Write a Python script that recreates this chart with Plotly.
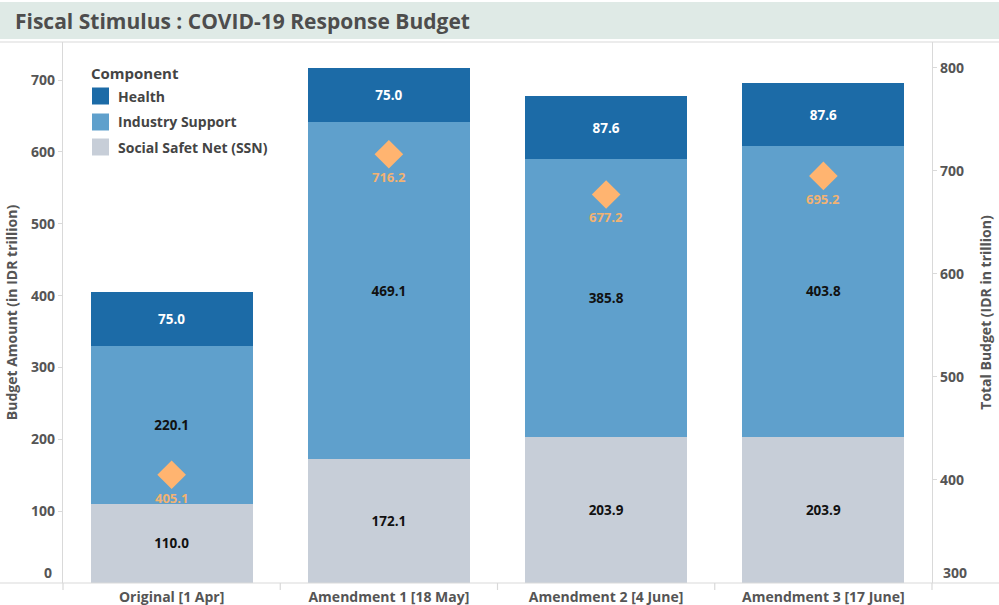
import plotly.graph_objects as go

# Fiscal stimulus components per budget revision (IDR trillion)
stages = ["Original [1 Apr]", "Amendment 1 [18 May]", "Amendment 2 [4 June]", "Amendment 3 [17 June]"]
ssn = [110.0, 172.1, 203.9, 203.9]
industry = [220.1, 469.1, 385.8, 403.8]
health = [75.0, 75.0, 87.6, 87.6]
total = [405.1, 716.2, 677.2, 695.2]

left_ticks = [100, 200, 300, 400, 500, 600, 700]
right_ticks = [400, 500, 600, 700, 800]

FONT = "Open Sans"
C_HEALTH = "#1c6ba7"
C_INDUSTRY = "#5fa0cc"
C_SSN = "#c7ced8"
C_TOTAL = "#ffb470"
C_TOTAL_TXT = "#f2b272"
AXIS_GRAY = "#d9d9d9"
TXT_GRAY = "#555555"
LEG_GRAY = "#444444"

W, H = 999, 605
ML, MR, MT, MB = 63, 67, 42, 22
PW, PH = W - ML - MR, H - MT - MB


def px_x(p):
    return (p - ML) / PW


def px_y(p):
    return 1 - (p - MT) / PH


fig = go.Figure()

components = [
    ("Social Safet Net (SSN)", ssn, C_SSN, "#111111"),
    ("Industry Support", industry, C_INDUSTRY, "#111111"),
    ("Health", health, C_HEALTH, "#ffffff"),
]
for name, vals, color, tcolor in components:
    fig.add_trace(go.Bar(
        x=stages, y=vals, name=name,
        marker=dict(color=color, line=dict(width=0)),
        width=0.745,
        text=[f"{v:.1f}" for v in vals],
        textposition="inside", insidetextanchor="middle",
        textfont=dict(family=FONT, size=13.5, color=tcolor, weight="bold"),
        showlegend=False, hoverinfo="skip",
    ))

fig.add_trace(go.Scatter(
    x=stages, y=total, yaxis="y2", mode="markers",
    marker=dict(symbol="diamond", size=22, color=C_TOTAL, line=dict(width=0)),
    showlegend=False, hoverinfo="skip",
))

annotations = [dict(
    text="Fiscal Stimulus : COVID-19 Response Budget",
    xref="paper", yref="paper", x=px_x(13), y=px_y(21),
    xanchor="left", yanchor="middle", showarrow=False,
    font=dict(family=FONT, size=21, color="#4d4d4d", weight="bold"),
)]

# total budget value labels under each diamond
for s, v in zip(stages, total):
    annotations.append(dict(
        x=s, y=v, xref="x", yref="y2", text=f"{v:.1f}", showarrow=False,
        yshift=-23, font=dict(family=FONT, size=13, color=C_TOTAL_TXT, weight="bold"),
    ))

# lowest tick labels sit slightly above the baseline
tick_font = dict(family=FONT, size=14, color=TXT_GRAY, weight="bold")
annotations.append(dict(text="0", xref="paper", yref="paper", x=px_x(54), y=px_y(572),
                        xanchor="right", yanchor="middle", showarrow=False, font=tick_font))
annotations.append(dict(text="300", xref="paper", yref="paper", x=px_x(941), y=px_y(572),
                        xanchor="left", yanchor="middle", showarrow=False, font=tick_font))

shapes = [
    # title band
    dict(type="rect", xref="paper", yref="paper",
         x0=px_x(0), x1=px_x(W), y0=px_y(39), y1=px_y(2),
         fillcolor="#dfeae6", line=dict(width=0), layer="below"),
    # header separator
    dict(type="line", xref="paper", yref="paper",
         x0=px_x(0), x1=px_x(W), y0=px_y(42), y1=px_y(42),
         line=dict(color=AXIS_GRAY, width=1.2)),
    # bottom axis line
    dict(type="line", xref="paper", yref="paper",
         x0=px_x(0), x1=px_x(W), y0=0, y1=0,
         line=dict(color=AXIS_GRAY, width=1.2)),
]
# category dividers below the axis
for i in range(len(stages) + 1):
    xp = i / len(stages)
    shapes.append(dict(type="line", xref="paper", yref="paper",
                       x0=xp, x1=xp, y0=0, y1=px_y(590),
                       line=dict(color=AXIS_GRAY, width=1.2)))

# legend
annotations.append(dict(text="Component", xref="paper", yref="paper", x=px_x(89), y=px_y(73),
                        xanchor="left", yanchor="middle", showarrow=False,
                        font=dict(family=FONT, size=15, color=LEG_GRAY, weight="bold")))
legend_y = [96, 122, 147]
for (name, _, color, _), yc in zip(reversed(components), legend_y):
    shapes.append(dict(type="rect", xref="paper", yref="paper",
                       x0=px_x(92), x1=px_x(109), y0=px_y(yc + 8.5), y1=px_y(yc - 8.5),
                       fillcolor=color, line=dict(width=0)))
    annotations.append(dict(text=name, xref="paper", yref="paper", x=px_x(116), y=px_y(yc),
                            xanchor="left", yanchor="middle", showarrow=False,
                            font=dict(family=FONT, size=14, color=LEG_GRAY, weight="bold")))

fig.update_layout(
    width=W, height=H,
    margin=dict(l=ML, r=MR, t=MT, b=MB),
    paper_bgcolor="white", plot_bgcolor="white",
    barmode="stack", bargap=0.255,
    font=dict(family=FONT, color=TXT_GRAY),
    showlegend=False,
    xaxis=dict(
        showgrid=False, showline=False, ticks="", automargin=False,
        ticklabelstandoff=4,
        tickfont=tick_font, fixedrange=True,
    ),
    yaxis=dict(
        range=[0, 753], tickvals=left_ticks, showgrid=False, zeroline=False,
        showline=True, linecolor=AXIS_GRAY, linewidth=1.2, automargin=False,
        ticks="outside", ticklen=4, tickcolor=AXIS_GRAY,
        tickfont=tick_font,
        title=dict(text="Budget Amount (in IDR trillion)", standoff=10,
                   font=dict(family=FONT, size=14, color=TXT_GRAY, weight="bold")),
    ),
    yaxis2=dict(
        overlaying="y", side="right", range=[300, 825.2], tickvals=right_ticks,
        showgrid=False, zeroline=False, automargin=False,
        showline=True, linecolor=AXIS_GRAY, linewidth=1.2,
        ticks="outside", ticklen=4, tickcolor=AXIS_GRAY,
        tickfont=tick_font,
        title=dict(text="Total Budget (IDR in trillion)", standoff=18,
                   font=dict(family=FONT, size=14, color=TXT_GRAY, weight="bold")),
    ),
    shapes=shapes,
    annotations=annotations,
)

fig.write_html("out.html")
